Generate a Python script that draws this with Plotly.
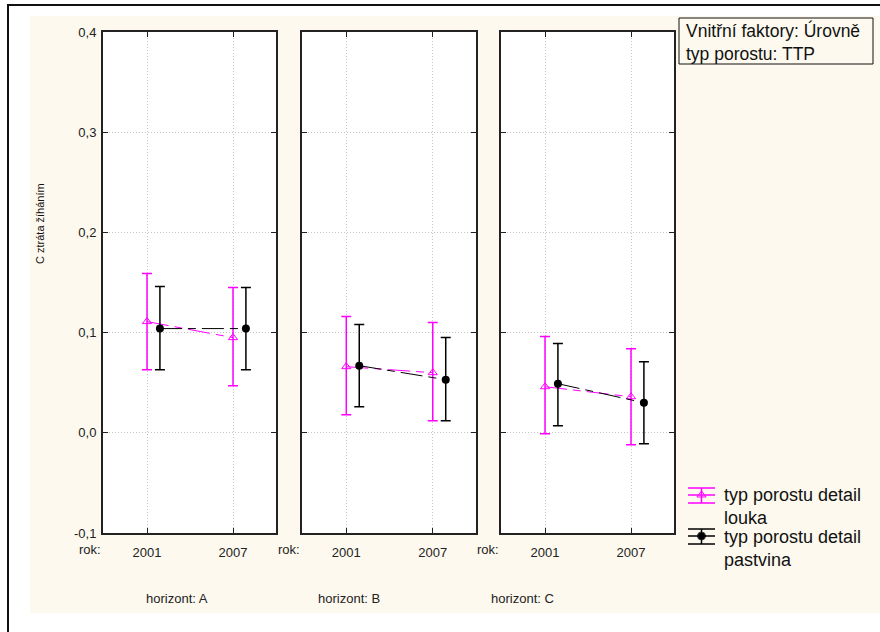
import plotly.graph_objects as go

# ---------------- data ----------------
years = ["2001", "2007"]
horizons = ["A", "B", "C"]
horizon_labels = ["horizont: A", "horizont: B", "horizont: C"]

louka_mean = [[0.111, 0.095], [0.066, 0.060], [0.046, 0.036]]
louka_upper = [[0.159, 0.145], [0.116, 0.110], [0.096, 0.084]]
louka_lower = [[0.063, 0.047], [0.018, 0.012], [-0.001, -0.012]]

pastvina_mean = [[0.104, 0.104], [0.067, 0.053], [0.049, 0.030]]
pastvina_upper = [[0.146, 0.145], [0.108, 0.095], [0.089, 0.071]]
pastvina_lower = [[0.063, 0.063], [0.026, 0.012], [0.007, -0.011]]

y_tickvals = [-0.1, 0.0, 0.1, 0.2, 0.3, 0.4]
y_ticktext = ["-0,1", "0,0", "0,1", "0,2", "0,3", "0,4"]

series_names = ["typ porostu detail<br>louka", "typ porostu detail<br>pastvina"]
y_title = "C ztráta žíháním"
info_text = "Vnitřní faktory: Úrovně<br>typ porostu: TTP"

# ---------------- layout helpers ----------------
W, H = 880, 632
def px(x):
    return x / W
def py(y):
    return 1 - y / H

FONT = "Liberation Sans, Arial, sans-serif"
PINK = "#ff00ff"
BLACK = "#000000"
CREAM = "#fdf9ee"
OFFSET = 0.15
DASH = "22px,6px,8px,6px"

panel_px = [(103, 276), (302, 476), (501, 674)]
y_dom = [py(533), py(32)]

fig = go.Figure()

for i, h in enumerate(horizons):
    ax = "" if i == 0 else str(i + 1)
    xs = list(range(len(years)))
    lm, lu, ll = louka_mean[i], louka_upper[i], louka_lower[i]
    pm, pu, pl = pastvina_mean[i], pastvina_upper[i], pastvina_lower[i]
    fig.add_trace(go.Scatter(
        x=xs, y=lm, xaxis="x" + ax, yaxis="y" + ax,
        mode="lines+markers", name=series_names[0], showlegend=False,
        line=dict(color=PINK, width=1, dash=DASH),
        marker=dict(symbol="triangle-up-open", size=8, color=PINK, line=dict(width=1)),
        error_y=dict(type="data", symmetric=False,
                     array=[u - m for u, m in zip(lu, lm)],
                     arrayminus=[m - l for m, l in zip(lm, ll)],
                     color=PINK, thickness=1.5, width=5),
    ))
    fig.add_trace(go.Scatter(
        x=[x + OFFSET for x in xs], y=pm, xaxis="x" + ax, yaxis="y" + ax,
        mode="lines+markers", name=series_names[1], showlegend=False,
        line=dict(color=BLACK, width=1, dash=DASH),
        marker=dict(symbol="circle", size=8, color=BLACK),
        error_y=dict(type="data", symmetric=False,
                     array=[u - m for u, m in zip(pu, pm)],
                     arrayminus=[m - l for m, l in zip(pm, pl)],
                     color=BLACK, thickness=1.5, width=5),
    ))

axis_common = dict(
    showline=True, linecolor="#222", linewidth=2, mirror="ticks",
    ticks="inside", ticklen=5, tickcolor="#222", automargin=False,
    showgrid=True, gridcolor="#c4c4c4", griddash="1px,2px", gridwidth=1,
    zeroline=False, tickfont=dict(family=FONT, size=13, color="#222"),
)

layout = dict(
    width=W, height=H, margin=dict(l=0, r=0, t=0, b=0, pad=0, autoexpand=False),
    paper_bgcolor="white", plot_bgcolor="rgba(0,0,0,0)",
    showlegend=False, font=dict(family=FONT, color="#222"),
)

for i, (x0, x1) in enumerate(panel_px):
    ax = "" if i == 0 else str(i + 1)
    layout["xaxis" + ax] = dict(
        axis_common, domain=[px(x0), px(x1)], range=[-0.512, 1.5],
        tickvals=list(range(len(years))), ticktext=years,
        anchor="y" + ax, ticklabelstandoff=6,
    )
    layout["yaxis" + ax] = dict(
        axis_common, domain=y_dom, range=[-0.1, 0.4],
        tickvals=y_tickvals, ticktext=y_ticktext,
        showticklabels=(i == 0), anchor="x" + ax, ticklabelstandoff=2,
    )

# overlay pixel axis for legend decoration
layout["xaxis4"] = dict(domain=[0, 1], range=[0, W], visible=False, fixedrange=True,
                        anchor="y4", automargin=False)
layout["yaxis4"] = dict(domain=[0, 1], range=[H, 0], visible=False, fixedrange=True,
                        anchor="x4", automargin=False)

fig.update_layout(**layout)

# background shapes (paper, below): cream area, outer frame, white panels
fig.add_shape(type="rect", xref="paper", yref="paper", x0=px(30), x1=px(W + 5), y0=py(613), y1=py(16),
              fillcolor=CREAM, line=dict(width=0), layer="below")
fig.add_shape(type="rect", xref="paper", yref="paper", x0=px(8), x1=px(W + 10), y0=py(H + 10), y1=py(5),
              fillcolor="rgba(0,0,0,0)", line=dict(color="#111", width=2), layer="below")
for (x0, x1) in panel_px:
    fig.add_shape(type="rect", xref="paper", yref="paper", x0=px(x0), x1=px(x1), y0=y_dom[0], y1=y_dom[1],
                  fillcolor="white", line=dict(width=0), layer="below")
# info box frame
fig.add_shape(type="rect", xref="paper", yref="paper", x0=px(679), x1=px(873), y0=py(64), y1=py(18),
              fillcolor=CREAM, line=dict(color="#111", width=1), layer="below")

# legend symbols
leg_x0, leg_x1, leg_xc = 688, 715, 701.5
for (yc, col, sym, ytop, ybot) in [(495, PINK, "triangle-up-open", 488, 503),
                                     (536, BLACK, "circle", 529, 544)]:
    for yy in (ytop, yc, ybot):
        fig.add_shape(type="line", xref="x4", yref="y4", x0=leg_x0, x1=leg_x1, y0=yy, y1=yy,
                      line=dict(color=col, width=1.5))
    fig.add_shape(type="line", xref="x4", yref="y4", x0=leg_xc, x1=leg_xc, y0=ytop, y1=ybot,
                  line=dict(color=col, width=1.5))
    fig.add_trace(go.Scatter(x=[leg_xc], y=[yc], xaxis="x4", yaxis="y4", mode="markers",
                             marker=dict(symbol=sym, size=8, color=col, line=dict(width=1)),
                             showlegend=False, hoverinfo="skip"))

# info text
fig.add_annotation(xref="paper", yref="paper", x=px(684), y=py(42), xanchor="left", yanchor="middle",
                   text=info_text, showarrow=False, align="left",
                   font=dict(family=FONT, size=17.5, color="#111"))

# legend texts
for t, yt in [(series_names[0], 483), (series_names[1], 525)]:
    fig.add_annotation(xref="paper", yref="paper", x=px(722), y=py(yt), xanchor="left", yanchor="top",
                       text=t, showarrow=False, align="left",
                       font=dict(family=FONT, size=18, color="#111"))

# y title
fig.add_annotation(xref="paper", yref="paper", x=px(40), y=py(224), text=y_title, textangle=-90,
                   xanchor="center", yanchor="middle",
                   showarrow=False, font=dict(family=FONT, size=11, color="#111"))

# rok: labels and horizont labels
for i, (x0, x1) in enumerate(panel_px):
    fig.add_annotation(xref="paper", yref="paper", x=px(x0 - 13), y=py(549), text="rok:",
                       xanchor="center", yanchor="middle",
                       showarrow=False, font=dict(family=FONT, size=13, color="#222"))
for xc, lab in zip([177, 349, 522], horizon_labels):
    fig.add_annotation(xref="paper", yref="paper", x=px(xc), y=py(598), text=lab,
                       xanchor="center", yanchor="middle",
                       showarrow=False, font=dict(family=FONT, size=13, color="#222"))

fig.write_html("out.html")
